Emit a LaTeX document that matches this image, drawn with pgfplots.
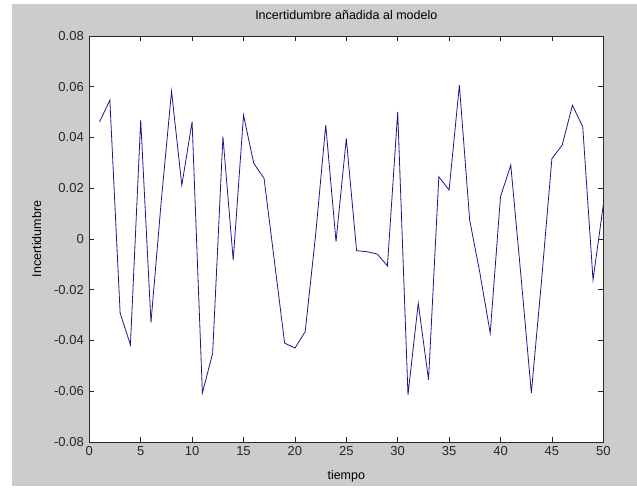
\documentclass[border=0pt]{standalone}
\usepackage{fontspec}
\setmainfont{Liberation Sans}
\usepackage{pgfplots}
\pgfplotsset{compat=1.18}

\definecolor{figgray}{RGB}{204,204,204}
\definecolor{lineblue}{RGB}{25,25,140}
\definecolor{axgray}{RGB}{40,40,40}

\begin{document}
\begin{tikzpicture}
\useasboundingbox (-89.3pt,-47pt) rectangle (547.7pt,442pt);
\fill[white] (-89.3pt,-47pt) rectangle (547.7pt,442pt);
\fill[figgray] (-77.3pt,-44pt) rectangle (547.7pt,438pt);
\begin{axis}[
    scale only axis,
    width=514pt,
    height=406pt,
    xmin=0, xmax=50,
    ymin=-0.08, ymax=0.08,
    scaled y ticks=false,
    scaled x ticks=false,
    xtick={0,5,...,50},
    xticklabels={0,5,10,15,20,25,30,35,40,45,50},
    ytick={-0.08,-0.06,-0.04,-0.02,0,0.02,0.04,0.06,0.08},
    yticklabels={-0.08,-0.06,-0.04,-0.02,0,0.02,0.04,0.06,0.08},
    tick align=inside,
    major tick length=5pt,
    axis line style={axgray, line width=0.8pt},
    tick style={axgray, line width=0.6pt},
    axis background/.style={fill=white},
    ticklabel style={font=\fontsize{13}{15}\selectfont, text=black!85},
    xticklabel style={yshift=-1pt},
    yticklabel style={xshift=-2pt},
    title={Incertidumbre añadida al modelo},
    title style={font=\fontsize{12.5}{14}\selectfont, yshift=7pt},
    xlabel={tiempo},
    ylabel={Incertidumbre},
    label style={font=\fontsize{12.5}{14}\selectfont},
    xlabel style={yshift=-8pt},
    ylabel style={yshift=6pt},
]
\addplot[lineblue, line width=0.8pt] coordinates {
(1,0.0462) (2,0.0547) (3,-0.0292) (4,-0.0417) (5,0.0468)
(6,-0.0329) (7,0.0150) (8,0.0582) (9,0.0212) (10,0.0462)
(11,-0.0607) (12,-0.0450) (13,0.0403) (14,-0.0083) (15,0.0488)
(16,0.0298) (17,0.0239) (18,-0.0085) (19,-0.0410) (20,-0.0430)
(21,-0.0365) (22,0.0010) (23,0.0449) (24,-0.0010) (25,0.0396)
(26,-0.0046) (27,-0.0050) (28,-0.0059) (29,-0.0106) (30,0.0501)
(31,-0.0614) (32,-0.0253) (33,-0.0555) (34,0.0245) (35,0.0193)
(36,0.0606) (37,0.0075) (38,-0.0135) (39,-0.0371) (40,0.0167)
(41,0.0291) (42,-0.0150) (43,-0.0607) (44,-0.0160) (45,0.0317)
(46,0.0370) (47,0.0527) (48,0.0442) (49,-0.0161) (50,0.0134)
};
\end{axis}
\end{tikzpicture}
\end{document}
